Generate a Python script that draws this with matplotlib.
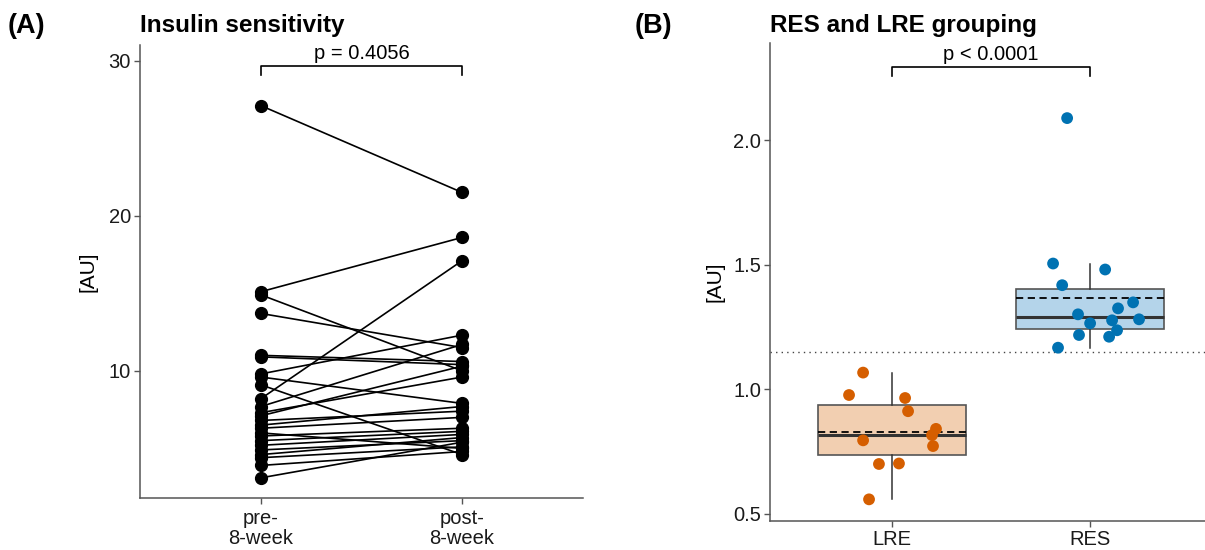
import matplotlib
matplotlib.use("Agg")
import matplotlib.pyplot as plt

plt.rcParams["font.family"] = ["Liberation Sans", "DejaVu Sans"]

# (A) paired insulin sensitivity, one entry per subject
pre_week = [27.1, 15.1, 14.9, 13.7, 11.0, 10.9, 9.8, 9.6, 9.1, 8.2, 7.7, 7.3, 7.1,
            6.8, 6.5, 6.3, 6.0, 5.8, 5.5, 5.2, 4.9, 4.6, 4.4, 3.9, 3.1]
post_week = [21.5, 18.6, 10.0, 11.5, 10.6, 10.4, 12.3, 7.9, 4.6, 17.1, 11.7, 9.6, 10.3,
             7.4, 7.7, 7.0, 5.0, 6.3, 6.1, 5.9, 5.5, 5.7, 5.1, 4.8, 5.4]
time_labels = ["pre-\n8-week", "post-\n8-week"]
p_paired = "p = 0.4056"

# (B) responder grouping
groups = ["LRE", "RES"]
lre_vals = [1.066, 0.976, 0.964, 0.911, 0.840, 0.815, 0.794, 0.771, 0.699, 0.701, 0.557]
lre_jitter = [-0.146, -0.217, 0.066, 0.081, 0.222, 0.202, -0.146, 0.207, -0.066, 0.035, -0.116]
res_vals = [2.088, 1.504, 1.480, 1.417, 1.348, 1.324, 1.300, 1.280, 1.276, 1.264,
            1.236, 1.217, 1.210, 1.166]
res_jitter = [-0.116, -0.187, 0.076, -0.141, 0.217, 0.141, -0.061, 0.247, 0.111, 0.0,
              0.136, -0.056, 0.096, -0.162]
cutoff = 1.149
p_groups = "p < 0.0001"

spine_col = "#555555"
fig = plt.figure(figsize=(12.05, 5.5), dpi=100)


def style_axes(ax):
    for s in ["top", "right"]:
        ax.spines[s].set_visible(False)
    for s in ["left", "bottom"]:
        ax.spines[s].set_color(spine_col)
        ax.spines[s].set_linewidth(1.1)
    ax.tick_params(axis="both", labelsize=14.5, length=4, width=1, color=spine_col,
                   labelcolor="#1a1a1a", pad=2.5)


def bracket(ax, x0, x1, y, drop, text):
    ax.plot([x0, x0, x1, x1], [y - drop, y, y, y - drop], color="black", lw=1.2,
            clip_on=False)
    ax.annotate(text, xy=((x0 + x1) / 2, y), xytext=(0, 2), textcoords="offset points",
                ha="center", va="bottom", fontsize=14.5)


# ---- panel A
axA = fig.add_axes([0.1162, 0.0945, 0.3675, 0.8235])
for a, b in zip(pre_week, post_week):
    axA.plot([0, 1], [a, b], color="black", lw=1.2, marker="o", markersize=8.5,
             zorder=3)
axA.set_xlim(-0.6, 1.6)
axA.set_ylim(1.8, 31.0)
axA.set_yticks([10, 20, 30])
axA.set_xticks([0, 1])
axA.set_xticklabels(time_labels, fontsize=14.5, linespacing=1.05)
axA.set_ylabel("[AU]", fontsize=15, labelpad=8)
style_axes(axA)
axA.tick_params(axis="x", pad=4)
bracket(axA, 0, 1, 29.66, 0.6, p_paired)
axA.set_title("Insulin sensitivity", loc="left", fontsize=17.5, fontweight="bold",
              x=0.0, y=1.01)
fig.text(0.006, 0.952, "(A)", fontsize=19.5, fontweight="bold", va="center")

# ---- panel B
axB = fig.add_axes([0.639, 0.0527, 0.361, 0.8693])
bp = axB.boxplot([lre_vals, res_vals], positions=[0, 1], widths=0.75,
                 patch_artist=True, showfliers=False, showmeans=True, meanline=True,
                 whis=1.5, showcaps=False,
                 medianprops=dict(color="#333333", lw=2.2),
                 meanprops=dict(color="black", lw=1.3, ls=(0, (4, 2.5))),
                 whiskerprops=dict(color="#333333", lw=1.1),
                 boxprops=dict(edgecolor="#555555", lw=1.2), zorder=1)
for patch, fc in zip(bp["boxes"], ["#f2cfb1", "#b4d4ea"]):
    patch.set_facecolor(fc)

axB.axhline(cutoff, color="#444444", lw=1.0, ls=(0, (1, 3)), zorder=0)
axB.scatter([0 + j for j in lre_jitter], lre_vals, s=72, color="#d55e00",
            edgecolors="none", zorder=3)
axB.scatter([1 + j for j in res_jitter], res_vals, s=72, color="#0072b2",
            edgecolors="none", zorder=3)

axB.set_xlim(-0.616, 1.58)
axB.set_ylim(0.47, 2.39)
axB.set_yticks([0.5, 1.0, 1.5, 2.0])
axB.set_yticklabels(["0.5", "1.0", "1.5", "2.0"])
axB.set_xticks([0, 1])
axB.set_xticklabels(groups, fontsize=14.5)
axB.set_ylabel("[AU]", fontsize=15, labelpad=6)
style_axes(axB)
bracket(axB, 0, 1, 2.294, 0.036, p_groups)
axB.set_title("RES and LRE grouping", loc="left", fontsize=17.5, fontweight="bold",
              x=0.0, y=1.005)
fig.text(0.527, 0.952, "(B)", fontsize=19.5, fontweight="bold", va="center")

fig.savefig("out.png", dpi=100)
